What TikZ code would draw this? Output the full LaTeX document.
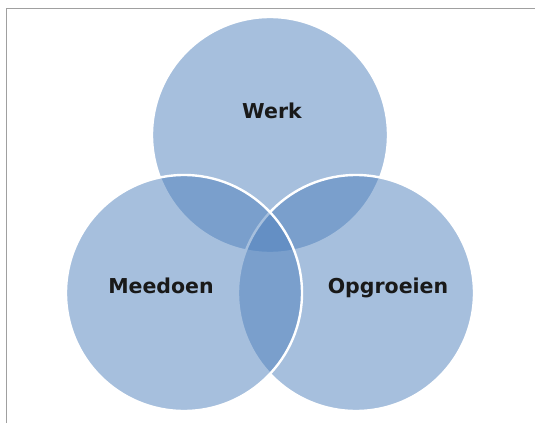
\documentclass[tikz,border=0pt]{standalone}
\usepackage{fontspec}
\setmainfont{DejaVu Sans}
\definecolor{offblue}{RGB}{79,129,189}
\definecolor{framegray}{RGB}{160,160,160}
\begin{document}
\begin{tikzpicture}[x=1pt,y=-1pt,
  venn/.style={fill=offblue,fill opacity=0.5,draw=white,line width=2.4pt},
  lbl/.style={font=\bfseries\fontsize{20.5}{24}\selectfont,text=black!90}]
\useasboundingbox (0,0) rectangle (535,423);
\fill[white] (0,0) rectangle (535,423);
\draw[framegray,line width=1.2pt] (6.5,423) -- (6.5,8.5) -- (535,8.5);
\path[venn] (270,135) circle (118);
\path[venn] (356,293) circle (118);
\path[venn] (184,293) circle (118);
\node[lbl] (werk) at (272,111) {Werk};
\node[lbl] (meedoen) at (161,286) {Meedoen};
\node[lbl] (opgroeien) at (388,288) {Opgroeien};
\end{tikzpicture}
\end{document}
